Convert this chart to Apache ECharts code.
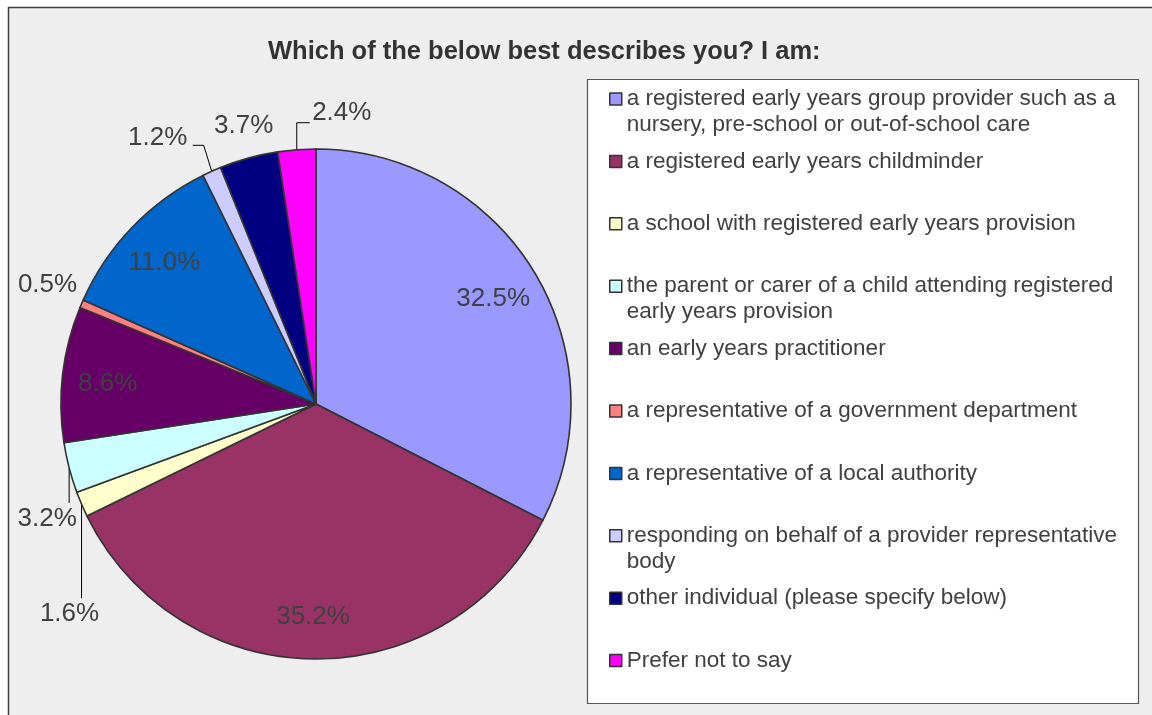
<!DOCTYPE html>
<html>
<head>
<meta charset="utf-8">
<script src="https://cdn.jsdelivr.net/npm/echarts@6/dist/echarts.min.js"></script>
<style>
  html, body { margin: 0; padding: 0; background: #fff; }
  #main { width: 1152px; height: 715px; }
</style>
</head>
<body>
<div id="main"></div>
<script>
// categories and values
const categories = [
  "a registered early years group provider such as a nursery, pre-school or out-of-school care",
  "a registered early years childminder",
  "a school with registered early years provision",
  "the parent or carer of a child attending registered early years provision",
  "an early years practitioner",
  "a representative of a government department",
  "a representative of a local authority",
  "responding on behalf of a provider representative body",
  "other individual (please specify below)",
  "Prefer not to say"
];
const percents = [32.5, 35.2, 1.6, 3.2, 8.6, 0.5, 11.0, 1.2, 3.7, 2.4];
// how the legend wraps each entry
const legendLines = [
  ["a registered early years group provider such as a", "nursery, pre-school or out-of-school care"],
  ["a registered early years childminder"],
  ["a school with registered early years provision"],
  ["the parent or carer of a child attending registered", "early years provision"],
  ["an early years practitioner"],
  ["a representative of a government department"],
  ["a representative of a local authority"],
  ["responding on behalf of a provider representative", "body"],
  ["other individual (please specify below)"],
  ["Prefer not to say"]
];
const colors = ["#9999ff", "#993366", "#ffffcc", "#ccffff", "#660066",
                "#ff8080", "#0066cc", "#ccccff", "#000080", "#ff00ff"];

const font = "'Liberation Sans', Arial, sans-serif";
const textColor = "#404040";
const cx = 316, cy = 404, R = 255;

// where Excel pushed the small outside labels: shift of the label centre
// from the slice's outer edge, and the shape of its leader line
const outsideLabels = {
  2: { shift: [-12, 110], line: "down" },
  3: { shift: [-22, 51], line: "down" },
  5: { shift: [-34, -19], line: "none" },
  7: { shift: [-54, -33], line: "left" },
  8: { shift: [-5, -32], line: "none" },
  9: { shift: [45, -37], line: "right" }
};

const myChart = echarts.init(document.getElementById("main"));

// one legend per entry so the rows keep Excel's even spacing
const legends = categories.map(function (name, i) {
  const lines = legendLines[i];
  const two = lines.length > 1;
  const center = 99 + i * 62.4;
  return {
    left: 609,
    top: two ? center - 39 : center - 13,
    padding: 0,
    orient: "vertical",
    data: [name],
    icon: "rect",
    itemWidth: 12,
    itemHeight: 12,
    itemStyle: { borderColor: "#333", borderWidth: 1.5 },
    selectedMode: false,
    // blank first line keeps the marker level with the first text line
    formatter: function () { return two ? [" "].concat(lines).join("\n") : lines[0]; },
    textStyle: {
      fontFamily: font,
      fontSize: 22.5,
      lineHeight: 26,
      color: textColor
    }
  };
});

const option = {
  backgroundColor: "#fff",
  color: colors,
  animation: false,
  title: {
    text: "Which of the below best describes you? I am:",
    left: 263,
    top: 34,
    textStyle: {
      fontFamily: font,
      fontSize: 25.5,
      fontWeight: "bold",
      color: "#333"
    }
  },
  graphic: [
    {
      type: "rect",
      z: -10,
      shape: { x: 8.5, y: 7.5, width: 1160, height: 730 },
      style: { fill: "#eeeeee", stroke: "#404040", lineWidth: 1.5 }
    },
    {
      type: "rect",
      z: -5,
      shape: { x: 587.5, y: 79.5, width: 551, height: 624 },
      style: { fill: "#ffffff", stroke: "#555", lineWidth: 1.2 }
    }
  ],
  legend: legends,
  series: [
    {
      type: "pie",
      center: [cx, cy],
      radius: [0, R],
      startAngle: 90,
      clockwise: true,
      avoidLabelOverlap: false,
      itemStyle: { borderColor: "#333", borderWidth: 1.6 },
      labelLine: {
        length: 10,
        length2: 5,
        lineStyle: { color: "#000", width: 1 }
      },
      label: {
        formatter: function (p) { return p.value.toFixed(1) + "%"; },
        fontFamily: font,
        fontSize: 26,
        width: 90,
        align: "center",
        color: textColor
      },
      labelLayout: function (p) {
        const rect = p.labelRect;
        const i = p.dataIndex;
        const o = outsideLabels[i];
        if (!o) {
          // Excel puts its inside labels about 0.8 of the radius out
          const lx = rect.x + rect.width / 2 - cx;
          const ly = rect.y + rect.height / 2 - cy;
          return { dx: lx * 0.6 - 1, dy: ly * 0.6 + 4 };
        }
        const edge = p.labelLinePoints[0];
        const x = edge[0] + o.shift[0];
        const y = edge[1] + o.shift[1];
        let pts;
        if (o.line === "down") {
          pts = [edge, [edge[0], y - 16], [edge[0], y - 16]];
        } else if (o.line === "left") {
          pts = [edge, [x + 46, y + 7], [x + 35, y + 7]];
        } else if (o.line === "right") {
          pts = [edge, [edge[0], y + 10], [x - 32, y + 10]];
        } else {
          pts = [edge, edge, edge];
        }
        return {
          x: x,
          y: y,
          align: "center",
          verticalAlign: "middle",
          labelLinePoints: pts
        };
      },
      data: categories.map(function (name, i) {
        const inside = !outsideLabels[i];
        return {
          name: name,
          value: percents[i],
          label: { position: inside ? "inside" : "outside" },
          labelLine: { show: !inside }
        };
      })
    }
  ]
};

myChart.setOption(option);
</script>
</body>
</html>
